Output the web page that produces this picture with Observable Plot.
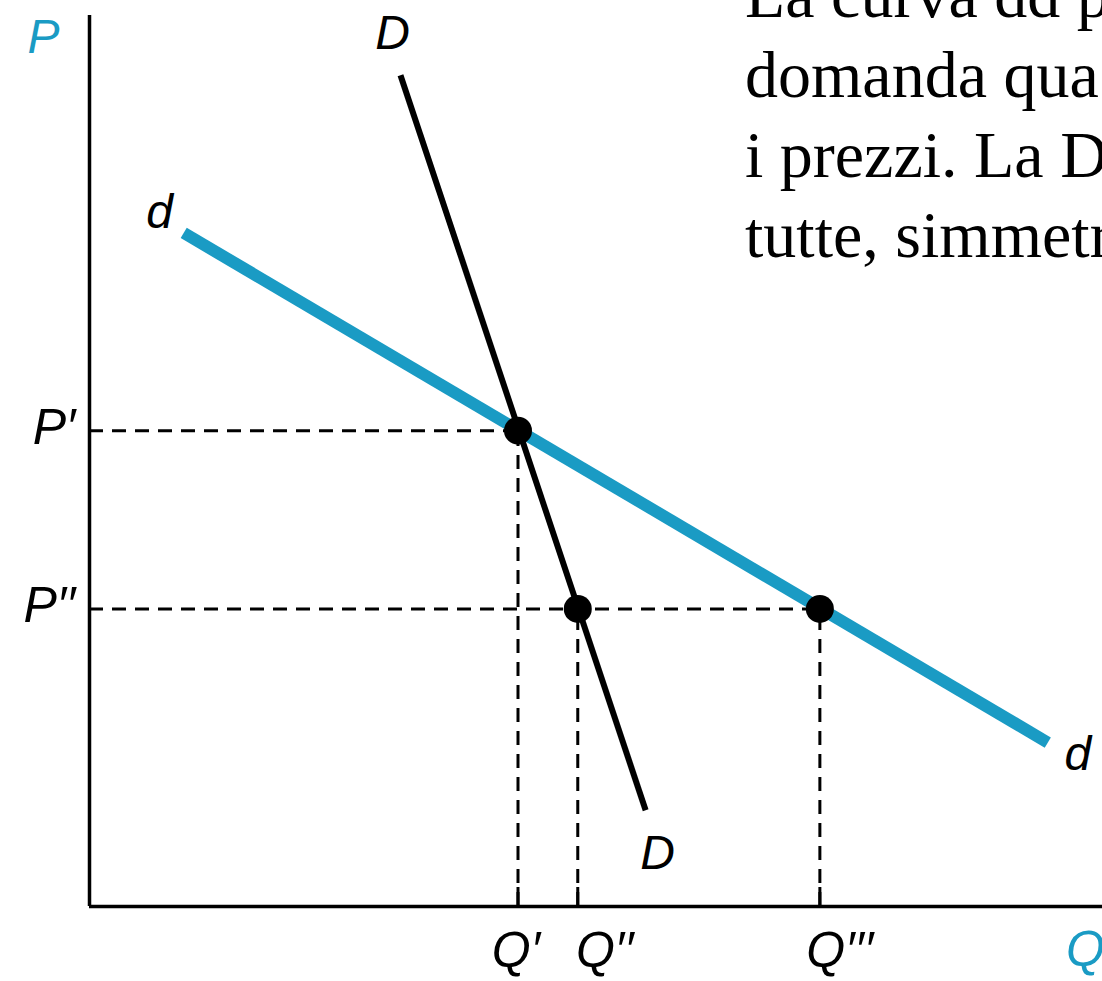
<!DOCTYPE html>
<html>
<head>
<meta charset="utf-8">
<script src="https://cdn.jsdelivr.net/npm/d3@7"></script>
<script src="https://cdn.jsdelivr.net/npm/@observablehq/plot@0.6"></script>
<style>
  html, body { margin: 0; padding: 0; background: #fff; overflow: hidden; width: 1102px; height: 981px; }
  #wrap { position: relative; width: 1102px; height: 981px; overflow: hidden; }
  #note {
    position: absolute; left: 745px; top: -45px;
    font-family: "Liberation Serif", "Times New Roman", serif;
    font-size: 66px; line-height: 80px; color: #000; white-space: nowrap;
  }
</style>
</head>
<body>
<div id="wrap">
  <div id="chart"></div>
  <div id="note">
    <div>La curva dd p</div>
    <div>domanda qua</div>
    <div>i prezzi. La D</div>
    <div>tutte, simmetr</div>
  </div>
</div>
<script>
// Quantities on the horizontal axis and prices on the vertical axis
const qLabels = ["Q′", "Q′′", "Q′′′"];
const qValues = [42.3, 48.2, 72.1];
const pLabels = ["P′", "P′′"];
const pValues = [53.4, 33.4];

// Intersection points (quantity, price)
const pointQ = [42.3, 48.2, 72.1];
const pointP = [53.4, 33.4, 33.4];

// Steep demand curve DD and flat demand curve dd (end points)
const curveDq = [30.7, 54.9];
const curveDp = [93.3, 10.8];
const curvedq = [9.3, 94.6];
const curvedp = [75.6, 18.4];

const blue = "#1a9bc4";
const labelFont = "Liberation Sans, Arial, sans-serif";

const points = pointQ.map((q, i) => ({q, p: pointP[i]}));
const D = curveDq.map((q, i) => ({q, p: curveDp[i]}));
const d = curvedq.map((q, i) => ({q, p: curvedp[i]}));
const qTicks = qValues.map((q, i) => ({q, label: qLabels[i]}));
const pTicks = pValues.map((p, i) => ({p, label: pLabels[i]}));
// horizontal dashed guides reach the right-most point at each price
const hGuides = pValues.map(p => ({p, q: d3.max(points.filter(o => o.p === p), o => o.q)}));

// horizontal nudges for the quantity labels, so the primes do not collide
const qLabelDx = [-2, 27, 20];

const margin = {top: 15, right: 0, bottom: 75, left: 89};
const H = 981, W = 1102;
const frameH = H - margin.top - margin.bottom;

const italic = {fontStyle: "italic", fontFamily: labelFont};

const chart = Plot.plot({
  width: W,
  height: H,
  marginTop: margin.top,
  marginRight: margin.right,
  marginBottom: margin.bottom,
  marginLeft: margin.left,
  x: {domain: [0, 100], axis: null},
  y: {domain: [0, 100], axis: null},
  style: {background: "transparent", overflow: "visible"},
  marks: [
    // dashed guides
    Plot.ruleY(hGuides, {y: "p", x1: 0, x2: "q", stroke: "#000", strokeWidth: 3, strokeDasharray: "14,9"}),
    Plot.ruleX(points, {x: "q", y1: 0, y2: "p", stroke: "#000", strokeWidth: 3, strokeDasharray: "14,9"}),
    // axes
    Plot.ruleX([0], {stroke: "#000", strokeWidth: 3.5}),
    Plot.ruleY([0], {stroke: "#000", strokeWidth: 3.5, x1: 0, x2: 100}),
    Plot.tickX(qTicks, {x: "q", insetTop: frameH - 19, stroke: "#000", strokeWidth: 3}),
    // curves
    Plot.line(d, {x: "q", y: "p", stroke: blue, strokeWidth: 12, strokeLinecap: "butt"}),
    Plot.line(D, {x: "q", y: "p", stroke: "#000", strokeWidth: 6, strokeLinecap: "butt"}),
    Plot.dot(points, {x: "q", y: "p", r: 14, fill: "#000", stroke: "none"}),
    // tick labels
    Plot.text(pTicks, {x: 0, y: "p", text: "label", textAnchor: "end", dx: -14, dy: -3,
      fontSize: 50, fill: "#000", ...italic}),
    Plot.text(qTicks, {x: "q", y: 0, text: "label", dy: 44, fontSize: 50, fill: "#000", ...italic}),
    // axis titles
    Plot.text(["P"], {frameAnchor: "top-left", textAnchor: "middle", lineAnchor: "middle",
      dx: -46, dy: 22, fontSize: 48, fill: blue, ...italic}),
    Plot.text(["Q"], {frameAnchor: "bottom-right", textAnchor: "middle", lineAnchor: "middle",
      dx: -17, dy: 43, fontSize: 50, fill: blue, ...italic}),
    // curve labels
    Plot.text([D[0]], {x: "q", y: "p", text: () => "D", dx: -8, dy: -42, fontSize: 48, fill: "#000", ...italic}),
    Plot.text([D[1]], {x: "q", y: "p", text: () => "D", dx: 12, dy: 43, fontSize: 48, fill: "#000", ...italic}),
    Plot.text([d[0]], {x: "q", y: "p", text: () => "d", dx: -24, dy: -20, fontSize: 48, fill: "#000", ...italic}),
    Plot.text([d[1]], {x: "q", y: "p", text: () => "d", dx: 30, dy: 12, fontSize: 48, fill: "#000", ...italic})
  ]
});

// shift each quantity label by its own nudge
chart.querySelectorAll("text").forEach(t => {
  const i = qLabels.indexOf(t.textContent);
  if (i >= 0) t.setAttribute("dx", qLabelDx[i]);
});

document.getElementById("chart").appendChild(chart);
</script>
</body>
</html>
